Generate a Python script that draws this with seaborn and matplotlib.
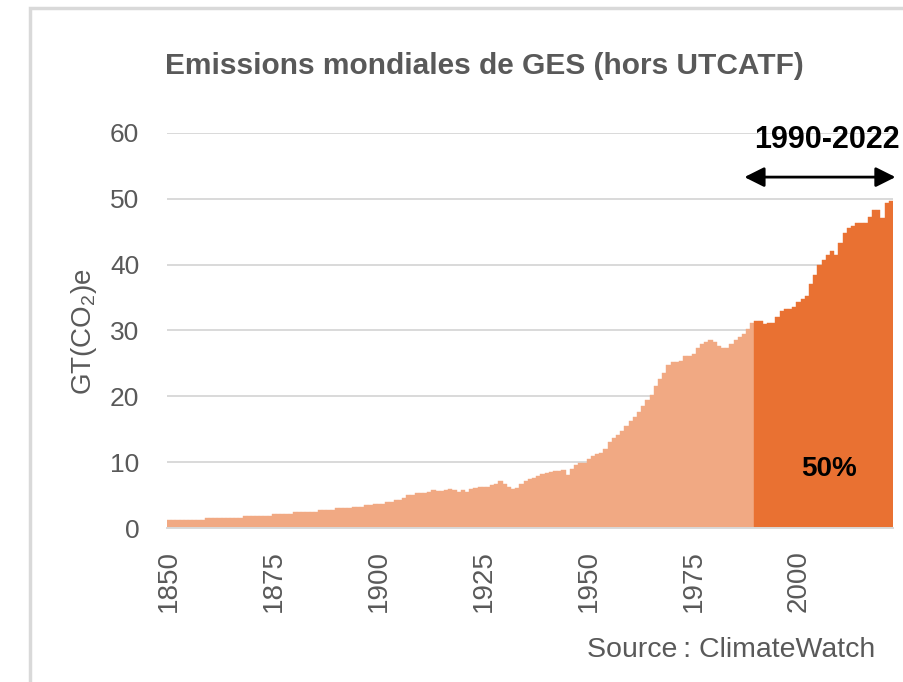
import matplotlib.pyplot as plt
import numpy as np
import pandas as pd
import seaborn as sns
from matplotlib.patches import Rectangle

# Emissions mondiales de GES hors UTCATF, en GT(CO2)e, une valeur par an
annees = np.arange(1850, 2023)
emissions = [
    1.2, 1.2, 1.2, 1.2, 1.2, 1.2, 1.2, 1.2, 1.2, 1.5,        # 1850
    1.5, 1.5, 1.5, 1.5, 1.5, 1.5, 1.5, 1.5, 1.8, 1.8,        # 1860
    1.8, 1.8, 1.8, 1.8, 1.8, 2.1, 2.1, 2.1, 2.1, 2.1,        # 1870
    2.4, 2.4, 2.4, 2.4, 2.4, 2.4, 2.7, 2.7, 2.7, 2.7,        # 1880
    3.0, 3.0, 3.0, 3.0, 3.2, 3.2, 3.2, 3.5, 3.5, 3.7,        # 1890
    3.7, 3.7, 4.0, 4.0, 4.3, 4.3, 4.6, 5.0, 5.0, 5.3,        # 1900
    5.3, 5.3, 5.5, 5.8, 5.6, 5.6, 5.7, 5.9, 5.8, 5.4,        # 1910
    5.8, 5.5, 5.9, 6.1, 6.2, 6.3, 6.3, 6.6, 6.7, 7.1,        # 1920
    6.7, 6.3, 6.0, 6.1, 6.7, 7.1, 7.4, 7.6, 7.9, 8.2,        # 1930
    8.4, 8.5, 8.6, 8.6, 8.8, 8.0, 9.0, 9.5, 9.8, 9.9,        # 1940
    10.5, 11.0, 11.3, 11.4, 12.0, 13.0, 13.7, 14.2, 14.8, 15.5,  # 1950
    16.3, 16.8, 17.6, 18.5, 19.5, 20.2, 21.5, 22.7, 23.6, 24.7,  # 1960
    25.2, 25.2, 25.3, 26.2, 26.2, 26.5, 27.4, 27.9, 28.3, 28.6,  # 1970
    28.2, 27.6, 27.4, 27.3, 28.0, 28.6, 29.0, 29.5, 30.3, 31.2,  # 1980
    31.4, 31.4, 31.0, 31.2, 31.2, 32.0, 33.0, 33.2, 33.3, 33.5,  # 1990
    34.4, 34.8, 35.3, 37.0, 38.4, 40.0, 40.7, 41.5, 42.1, 41.5,  # 2000
    43.3, 44.8, 45.5, 45.9, 46.4, 46.4, 46.4, 47.2, 48.3, 48.3,  # 2010
    47.1, 49.3, 49.6,                                            # 2020
]
annee_debut = 1990
annees_ticks = [1850, 1875, 1900, 1925, 1950, 1975, 2000]
couleurs = {"avant": "#F1A983", "recent": "#E97132"}

df = pd.DataFrame({"annee": annees, "emissions": emissions})
df["periode"] = np.where(df["annee"] >= annee_debut, "recent", "avant")

sns.set_style("white")
plt.rcParams["font.family"] = ["Liberation Sans", "DejaVu Sans"]
plt.rcParams["mathtext.default"] = "regular"
gris = "#595959"

fig = plt.figure(figsize=(9.04, 6.82), dpi=100)
ax = fig.add_axes([0.1847, 0.2258, 0.8031, 0.5792])

sns.barplot(data=df, x="annee", y="emissions", hue="periode", palette=couleurs,
            saturation=1, width=1, dodge=False, legend=False, ax=ax)
for p in ax.patches:
    p.set_edgecolor(p.get_facecolor())
    p.set_linewidth(0.3)

ax.set_xlim(-0.5, len(annees) - 0.5)
ax.set_ylim(0, 60)
ax.set_yticks(range(0, 61, 10))
ax.grid(axis="y", color="#D9D9D9", linewidth=1.4)
ax.set_axisbelow(True)
for s in ["top", "right", "left"]:
    ax.spines[s].set_visible(False)
ax.spines["bottom"].set_color("#D9D9D9")
ax.spines["bottom"].set_linewidth(1.4)

pos = [list(annees).index(a) for a in annees_ticks]
ax.set_xticks(pos)
ax.set_xticklabels([str(a) for a in annees_ticks], rotation=90)
ax.tick_params(axis="both", length=0, labelcolor=gris)
ax.tick_params(axis="x", pad=16, labelsize=20)
ax.tick_params(axis="y", pad=20, labelsize=19)
ax.set_xlabel("")
ax.set_ylabel("GT(CO$_2$)e", fontsize=20, color=gris)
ax.yaxis.set_label_coords(-0.094, 0.496)

# fleche 1990-2022
i0 = list(annees).index(annee_debut)
ax.annotate("", xy=(len(annees) + 0.1, 53.3), xytext=(i0 - 2.9, 53.3),
            xycoords="data", annotation_clip=False,
            arrowprops=dict(arrowstyle="<|-|>", color="black", lw=2,
                            mutation_scale=30, shrinkA=0, shrinkB=0))
ax.text(i0 + 16.7, 59, "1990-2022", ha="center", va="center",
        fontsize=22, fontweight="bold", color="black", clip_on=False)
ax.text(i0 + 17.2, 9, "50%", ha="center", va="center",
        fontsize=20, fontweight="bold", color="black")

fig.text(0.5354, 0.903, "Emissions mondiales de GES (hors UTCATF)",
         ha="center", va="center", fontsize=21.5, fontweight="bold", color=gris)
fig.text(0.968, 0.047, "Source\u2009: ClimateWatch", ha="right", va="center",
         fontsize=20.5, color=gris)

fig.patches.append(Rectangle((30 / 904, -0.1), 1.2, 1.088, transform=fig.transFigure,
                             fill=False, edgecolor="#D9D9D9", linewidth=2.5))

fig.savefig("out.png", dpi=100)
